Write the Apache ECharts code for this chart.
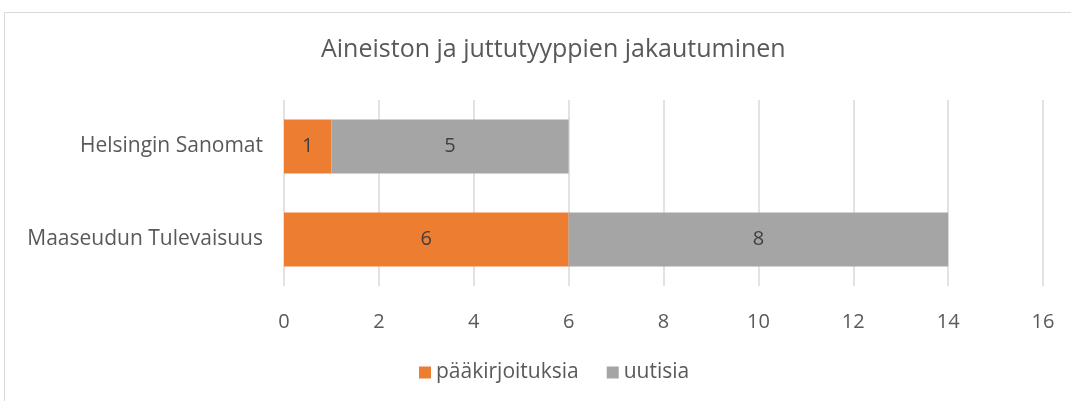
<!DOCTYPE html>
<html>
<head>
<meta charset="utf-8">
<script src="https://cdn.jsdelivr.net/npm/echarts@6/dist/echarts.min.js"></script>
<style>
  html, body { margin: 0; padding: 0; background: #fff; }
  #chart { width: 1071px; height: 401px; }
</style>
</head>
<body>
<div id="chart"></div>
<script>
// kategoriat (alhaalta ylös)
var categories = ['Maaseudun Tulevaisuus', 'Helsingin Sanomat'];
var paakirjoituksia = [6, 1];
var uutisia = [8, 5];
var xTicks = { min: 0, max: 16, interval: 2 };

var font = '"Open Sans", sans-serif';
var chart = echarts.init(document.getElementById('chart'));

chart.setOption({
    animation: false,
    textStyle: { fontFamily: font },
    title: {
        text: 'Aineiston ja juttutyyppien jakautuminen',
        left: 316,
        top: 32,
        textStyle: { fontSize: 25, fontWeight: 'normal', color: '#595959', fontFamily: font }
    },
    legend: {
        bottom: 13,
        left: 414,
        itemWidth: 12,
        itemHeight: 12,
        itemGap: 28,
        icon: 'rect',
        textStyle: { fontSize: 21, color: '#595959', fontFamily: font },
        data: ['pääkirjoituksia', 'uutisia']
    },
    grid: { left: 284, right: 28, top: 100, bottom: 115 },
    xAxis: {
        type: 'value',
        min: xTicks.min,
        max: xTicks.max,
        interval: xTicks.interval,
        axisLine: { show: false },
        axisTick: { show: false },
        splitLine: { lineStyle: { color: '#D9D9D9', width: 1.5 } },
        axisLabel: { fontSize: 20, color: '#595959', margin: 26 }
    },
    yAxis: {
        type: 'category',
        data: categories,
        axisLine: { show: false },
        axisTick: { show: false },
        axisLabel: { fontSize: 21, color: '#595959', margin: 21 }
    },
    series: [
        {
            name: 'pääkirjoituksia',
            type: 'bar',
            stack: 'a',
            barWidth: '58%',
            data: paakirjoituksia,
            itemStyle: { color: '#ED7D31' },
            label: { show: true, position: 'inside', fontSize: 20, color: '#404040' }
        },
        {
            name: 'uutisia',
            type: 'bar',
            stack: 'a',
            barWidth: '58%',
            data: uutisia,
            itemStyle: { color: '#A5A5A5' },
            label: { show: true, position: 'inside', fontSize: 20, color: '#404040' }
        }
    ],
    graphic: [{
        type: 'rect',
        shape: { x: 4.5, y: 12.5, width: 1080, height: 400 },
        style: { fill: 'none', stroke: '#D9D9D9', lineWidth: 1 },
        silent: true
    }]
});
</script>
</body>
</html>
